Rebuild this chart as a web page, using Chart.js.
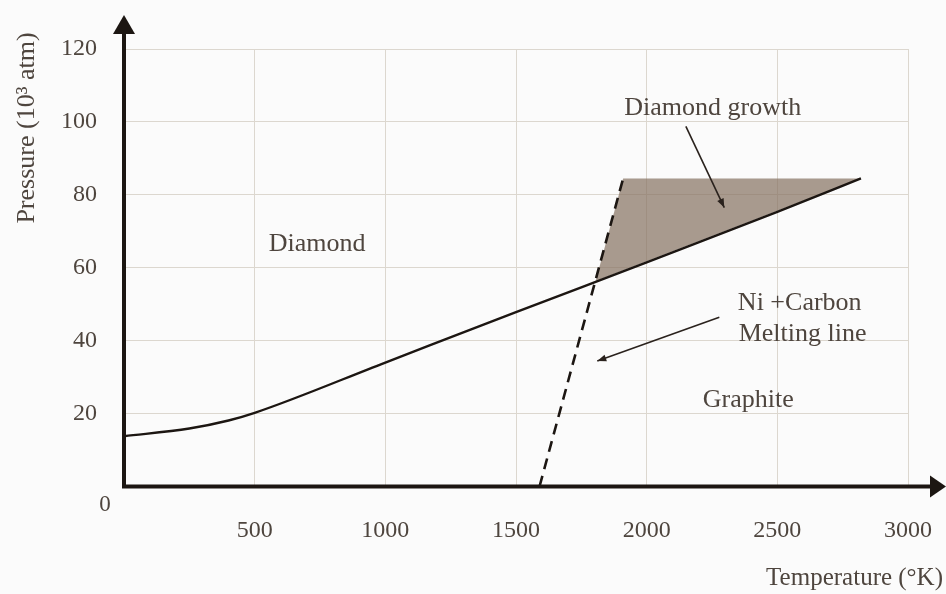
<!DOCTYPE html>
<html>
<head>
<meta charset="utf-8">
<title>Carbon phase diagram</title>
<script src="https://cdn.jsdelivr.net/npm/chart.js@4/dist/chart.umd.min.js"></script>
<style>
  html, body { margin: 0; padding: 0; background: #fbfbfb; }
  canvas { display: block; }
</style>
</head>
<body>
<canvas id="phaseChart" width="946" height="594"></canvas>
<script>
// Temperature (°K) / pressure (10^3 atm) values
const boundaryT = [0, 250, 400, 500, 1000, 1500, 2000, 2500, 2820];
const boundaryP = [13.8, 15.9, 18.1, 20.2, 34.0, 47.8, 61.5, 75.3, 84.5];

const meltT = [1590, 1910];
const meltP = [0, 84.5];

const growthT = [1805, 1910, 2820, 1805];
const growthP = [56.4, 84.5, 84.5, 56.4];

const tempTicks = [0, 500, 1000, 1500, 2000, 2500, 3000];
const pressTicks = [0, 20, 40, 60, 80, 100, 120];

const FONT = '"Liberation Serif", "Times New Roman", serif';
const INK = '#1c1612';
const TEXT = '#4e453e';

function pts(xs, ys) {
    return xs.map((x, i) => ({ x: x, y: ys[i] }));
}

function arrowHead(ctx, x1, y1, x2, y2, len, half) {
    const a = Math.atan2(y2 - y1, x2 - x1);
    ctx.beginPath();
    ctx.moveTo(x2, y2);
    ctx.lineTo(x2 - len * Math.cos(a) + half * Math.sin(a), y2 - len * Math.sin(a) - half * Math.cos(a));
    ctx.lineTo(x2 - len * Math.cos(a) - half * Math.sin(a), y2 - len * Math.sin(a) + half * Math.cos(a));
    ctx.closePath();
    ctx.fill();
}

// axes with arrows, labels and annotations
const decorations = {
    id: 'decorations',
    afterDatasetsDraw(chart) {
        const ctx = chart.ctx;
        const xs = chart.scales.x, ys = chart.scales.y;
        const X = v => xs.getPixelForValue(v);
        const Y = v => ys.getPixelForValue(v);
        const ox = X(0), oy = Y(0);

        ctx.save();
        ctx.strokeStyle = INK;
        ctx.fillStyle = INK;
        ctx.lineWidth = 4;
        ctx.beginPath();
        ctx.moveTo(ox, oy);
        ctx.lineTo(ox, 30);
        ctx.moveTo(ox - 2, oy);
        ctx.lineTo(934, oy);
        ctx.stroke();
        arrowHead(ctx, ox, oy, ox, 15, 19, 11);
        arrowHead(ctx, ox, oy, 946, oy, 16, 11);

        // thin annotation arrows
        ctx.lineWidth = 1.6;
        ctx.strokeStyle = '#2a221d';
        ctx.fillStyle = '#2a221d';
        const arrows = [
            [2150, 98.8, 2297, 76.5],
            [2278, 46.4, 1811, 34.4]
        ];
        arrows.forEach(a => {
            const x1 = X(a[0]), y1 = Y(a[1]), x2 = X(a[2]), y2 = Y(a[3]);
            ctx.beginPath();
            ctx.moveTo(x1, y1);
            ctx.lineTo(x2, y2);
            ctx.stroke();
            arrowHead(ctx, x1, y1, x2, y2, 9, 3.5);
        });

        ctx.fillStyle = TEXT;
        ctx.font = '26px ' + FONT;
        ctx.textBaseline = 'middle';
        ctx.textAlign = 'center';
        ctx.fillText('Diamond', X(739), Y(66.4));
        ctx.fillText('Graphite', X(2389), Y(23.7));
        ctx.fillText('Diamond growth', X(2253), Y(103.8));
        ctx.textAlign = 'left';
        ctx.fillText('Ni +Carbon', X(2349), Y(50.3));
        ctx.fillText('Melting line', X(2352), Y(41.8));

        // origin label sits below-left of the corner
        ctx.font = '23px ' + FONT;
        ctx.textAlign = 'center';
        ctx.fillText('0', 105, 505);

        // axis titles
        ctx.font = '25px ' + FONT;
        ctx.textAlign = 'right';
        ctx.fillText('Temperature (°K)', 943, 578);

        ctx.font = '26px ' + FONT;
        ctx.translate(27, 128);
        ctx.rotate(-Math.PI / 2);
        ctx.textAlign = 'center';
        ctx.fillText('Pressure (10³ atm)', 0, 0);
        ctx.restore();
    }
};

new Chart(document.getElementById('phaseChart'), {
    type: 'line',
    data: {
        datasets: [{
            label: 'Phase boundary',
            data: pts(boundaryT, boundaryP),
            borderColor: INK,
            borderWidth: 2.4,
            cubicInterpolationMode: 'monotone',
            pointRadius: 0,
            fill: false
        }, {
            label: 'Ni + Carbon melting line',
            data: pts(meltT, meltP),
            borderColor: INK,
            borderWidth: 2.6,
            borderDash: [11, 7],
            pointRadius: 0,
            fill: false
        }, {
            label: 'Diamond growth',
            data: pts(growthT, growthP),
            borderWidth: 0,
            borderColor: 'rgba(0,0,0,0)',
            backgroundColor: 'rgba(132, 112, 96, 0.7)',
            pointRadius: 0,
            tension: 0,
            fill: 'shape'
        }]
    },
    options: {
        responsive: false,
        devicePixelRatio: 1,
        animation: false,
        layout: { padding: { top: 49, right: 38, left: 0, bottom: 0 } },
        plugins: { legend: { display: false }, tooltip: { enabled: false } },
        scales: {
            x: {
                type: 'linear',
                min: 0,
                max: 3000,
                afterFit: s => { s.height = 107.5; s.paddingLeft = 0; s.paddingRight = 0; },
                afterBuildTicks: s => { s.ticks = tempTicks.map(v => ({ value: v })); },
                grid: { color: '#dcd7cf', lineWidth: 1, drawTicks: false },
                border: { display: false },
                ticks: {
                    padding: 30,
                    color: TEXT,
                    font: { family: FONT, size: 24 },
                    maxRotation: 0,
                    callback: v => v === 0 ? '' : String(v)
                }
            },
            y: {
                type: 'linear',
                min: 0,
                max: 120,
                afterFit: s => { s.width = 124; s.paddingTop = 0; s.paddingBottom = 0; },
                afterBuildTicks: s => { s.ticks = pressTicks.map(v => ({ value: v })); },
                grid: { color: '#dcd7cf', lineWidth: 1, drawTicks: false },
                border: { display: false },
                ticks: {
                    padding: 27,
                    color: TEXT,
                    font: { family: FONT, size: 24 },
                    callback: v => v === 0 ? '' : String(v)
                }
            }
        }
    },
    plugins: [decorations]
});
</script>
</body>
</html>
